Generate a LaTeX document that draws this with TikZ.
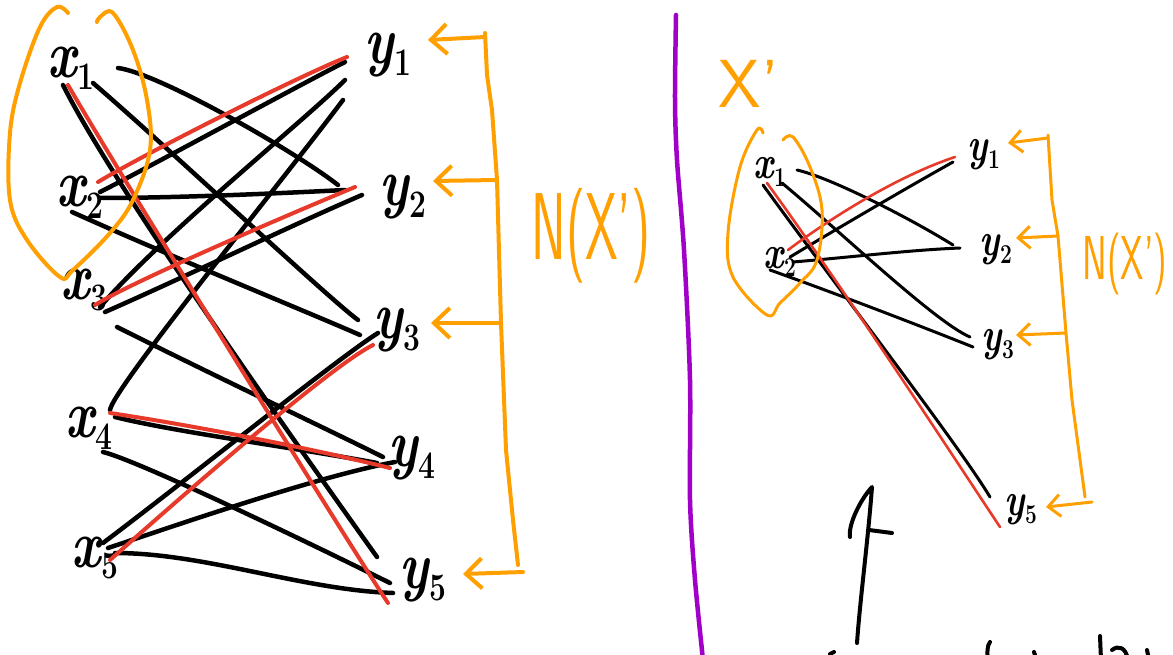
\documentclass[tikz,border=0pt]{standalone}
\usepackage{fontspec}
\usetikzlibrary{calc,arrows.meta}
\definecolor{inkred}{RGB}{232,58,42}
\definecolor{inkorange}{RGB}{255,160,0}
\definecolor{inkpurple}{RGB}{160,0,200}
% vertex labels: big letter with a lowered index, stretched a little upwards
\newcommand\labL[2]{\scalebox{1}[1.3]{{\fontsize{52}{52}\selectfont\bfseries\itshape #1}\raisebox{-9pt}{\fontsize{30}{30}\selectfont\bfseries #2}}}
\newcommand\labR[2]{\scalebox{1}[1.3]{{\fontsize{36}{36}\selectfont\bfseries\itshape #1}\raisebox{-6pt}{\fontsize{21}{21}\selectfont\bfseries #2}}}
\tikzset{
  vtx/.style={inner sep=0pt},
  bk/.style={draw=black, line width=4.5pt, line cap=round, line join=round},
  rd/.style={draw=inkred, line width=4pt, line cap=round, line join=round},
  bks/.style={bk, line width=3pt},
  rds/.style={rd, line width=2.6pt},
  org/.style={draw=inkorange, line width=4pt, line cap=round, line join=round},
  orgs/.style={org, line width=3pt},
  nbarrow/.style={org, -{Straight Barb[length=16pt,width=30pt]}},
  nbarrows/.style={orgs, -{Straight Barb[length=12pt,width=22pt]}},
  otext/.style={text=inkorange, inner sep=0pt, font=\sffamily},
}
\begin{document}
\begin{tikzpicture}[x=1pt,y=-1pt]
\useasboundingbox (0,0) rectangle (1173,655);
\fill[white] (0,0) rectangle (1173,655);

% ---------- left bipartite graph ----------
\node[vtx] (x1) at (71,68)  {\labL{x}{1}};
\node[vtx] (x2) at (80,197) {\labL{x}{2}};
\node[vtx] (x3) at (84,290) {\labL{x}{3}};
\node[vtx] (x4) at (89,428) {\labL{x}{4}};
\node[vtx] (x5) at (95,558) {\labL{x}{5}};
\node[vtx] (y1) at (388,55)  {\labL{y}{1}};
\node[vtx] (y2) at (403,197) {\labL{y}{2}};
\node[vtx] (y3) at (397,330) {\labL{y}{3}};
\node[vtx] (y4) at (412,458) {\labL{y}{4}};
\node[vtx] (y5) at (423,580) {\labL{y}{5}};

% edges
\draw[bk] ($(x1)+(47,0)$)   .. controls +(40,5)   and +(-45,-35) .. ($(y2)+(-65,-12)$);
\draw[bk] ($(x1)+(22,15)$)  .. controls +(70,60)  and +(-30,-22) .. ($(y3)+(-39,-10)$);
\draw[bk] ($(x1)+(-8,17)$)  .. controls +(55,110) and +(-50,-70) .. ($(y5)+(-46,-23)$);
\draw[bk] ($(x2)+(20,-5)$)  .. controls +(40,-20) and +(-40,20)  .. ($(y1)+(-43,7)$);
\draw[bk] ($(x2)+(20,1)$)   .. controls +(80,0)   and +(-60,3)   .. ($(y2)+(-58,-7)$);
\draw[bk] ($(x2)+(-8,15)$)  .. controls +(100,45) and +(-50,-22) .. ($(y3)+(-37,5)$);
\draw[bk] ($(x3)+(16,17)$)  .. controls +(60,-70) and +(-40,40)  .. ($(y1)+(-43,25)$);
\draw[bk] ($(x4)+(21,-18)$) .. controls +(2,-20)  and +(-60,80)  .. ($(y1)+(-45,45)$);
\draw[bk] ($(x3)+(21,22)$)  .. controls +(80,-35) and +(-70,30)  .. ($(y2)+(-41,-2)$);
\draw[bk] ($(x3)+(33,37)$)  .. controls +(100,50) and +(-50,-25) .. ($(y4)+(-29,-1)$);
\draw[bk] ($(x4)+(26,-11)$) .. controls +(60,15)  and +(-80,-15) .. ($(y4)+(-35,5)$);
\draw[bk] ($(x4)+(14,24)$)  .. controls +(40,10)  and +(-50,-25) .. ($(y5)+(-33,3)$);
\draw[bk] ($(x5)+(8,-15)$)  .. controls +(80,-60) and +(-40,25)  .. ($(y3)+(-19,3)$);
\draw[bk] ($(x5)+(13,-10)$) .. controls +(60,-20) and +(-80,15)  .. ($(y4)+(-17,4)$);
\draw[bk] ($(x5)+(20,-5)$)  .. controls +(90,0)   and +(-90,-3)  .. ($(y5)+(-30,13)$);

% matching
\draw[rd] ($(x1)+(-3,17)$)  .. controls +(40,70)  and +(-40,-60) .. ($(y5)+(-35,23)$);
\draw[rd] ($(x2)+(18,-15)$) .. controls +(50,-30) and +(-50,20)  .. ($(y1)+(-41,2)$);
\draw[rd] ($(x3)+(11,15)$)  .. controls +(40,-25) and +(-60,25)  .. ($(y2)+(-48,-10)$);
\draw[rd] ($(x4)+(21,-15)$) .. controls +(80,12)  and +(-80,-20) .. ($(y4)+(-22,10)$);
\draw[rd] ($(x5)+(15,2)$)   .. controls +(90,-80) and +(-40,20)  .. ($(y3)+(-24,15)$);

% the set X' circled
\draw[org] plot[smooth, tension=0.6] coordinates {(68,13) (57,7) (40,27) (20,83) (10,133) (10,200) (27,240) (60,277) (73,270) (110,233) (133,200) (150,150) (147,100) (133,50) (113,13) (100,17) (97,22)};

% neighbourhood bracket
\coordinate (lb1) at (485,37);
\coordinate (lb2) at (497,180);
\coordinate (lb3) at (501,323);
\coordinate (lb5) at (523,572);
\draw[org] (485,33) -- (487,75) -- (492,110) -- (497,180) -- (501,323) -- (506,450) -- (513,520) -- (518,565);
\draw[nbarrow] (lb1) -- ($(y1)+(40,-15)$);
\draw[nbarrow] (lb2) -- ($(y2)+(30,-16)$);
\draw[nbarrow] (lb3) -- ($(y3)+(34,-7)$);
\draw[nbarrow] (lb5) -- ($(y5)+(40,-6)$);
\node[otext] (nl) at (591,236) {\fontsize{95}{95}\selectfont\scalebox{0.55}[1]{N(X')}};

% ---------- separator ----------
\draw[draw=inkpurple, line width=4.5pt, line cap=round] plot[smooth] coordinates {(676,15) (675,100) (677,160) (684,250) (690,380) (690,500) (695,580) (703,660)};

% ---------- right: the subgraph on X' ----------
\node[vtx] (rx1) at (770,172) {\labR{x}{1}};
\node[vtx] (rx2) at (780,262) {\labR{x}{2}};
\node[vtx] (ry1) at (984,155) {\labR{y}{1}};
\node[vtx] (ry2) at (996,250) {\labR{y}{2}};
\node[vtx] (ry3) at (998,345) {\labR{y}{3}};
\node[vtx] (ry5) at (1021,510) {\labR{y}{5}};

\draw[bks] ($(rx1)+(27,-2)$) .. controls +(35,8)   and +(-40,-25) .. ($(ry2)+(-43,-5)$);
\draw[bks] ($(rx1)+(12,11)$) .. controls +(60,50)  and +(-35,-15) .. ($(ry3)+(-28,-8)$);
\draw[bks] ($(rx1)+(-7,13)$) .. controls +(80,110) and +(-30,-50) .. ($(ry5)+(-31,-13)$);
\draw[bks] ($(rx2)+(10,-5)$) .. controls +(50,-30) and +(-50,28)  .. ($(ry1)+(-31,7)$);
\draw[bks] ($(rx2)+(13,0)$)  .. controls +(60,-5)  and +(-50,2)   .. ($(ry2)+(-36,-2)$);
\draw[bks] ($(rx2)+(-10,8)$) .. controls +(70,25)  and +(-50,-20) .. ($(ry3)+(-25,2)$);
\draw[rds] ($(rx1)+(-3,11)$) .. controls +(80,110) and +(-40,-60) .. ($(ry5)+(-21,17)$);
\draw[rds] ($(rx2)+(8,-12)$) .. controls +(40,-30) and +(-60,20)  .. ($(ry1)+(-29,2)$);

\draw[orgs] plot[smooth, tension=0.6] coordinates {(763,133) (757,130) (740,167) (728,233) (733,277) (767,315) (780,303) (800,283) (817,260) (822,210) (810,167) (793,137) (783,140)};
\node[otext] (xp) at (749,84) {\fontsize{68}{68}\selectfont X'};

\coordinate (rb1) at (1048,138);
\coordinate (rb2) at (1058,236);
\coordinate (rb3) at (1066,333);
\coordinate (rb5) at (1092,502);
\draw[orgs] (1048,135) -- (1052,200) -- (1058,236) -- (1066,333) -- (1072,400) -- (1085,497);
\draw[nbarrows] (rb1) -- ($(ry1)+(24,-12)$);
\draw[nbarrows] (rb2) -- ($(ry2)+(20,-12)$);
\draw[nbarrows] (rb3) -- ($(ry3)+(18,-10)$);
\draw[nbarrows] (rb5) -- ($(ry5)+(25,-3)$);
\node[otext] (nr) at (1125,264) {\fontsize{62}{62}\selectfont\scalebox{0.6}[1]{N(X')}};

% hand-drawn arrow pointing up, and the start of the line below it
\draw[bk, line width=4pt] (857,643) .. controls (860,600) and (868,540) .. (872,487)
      .. controls (860,500) and (848,525) .. (850,537);
\draw[bk, line width=4pt] (869,530) -- (892,533);
\draw[bk, line width=4pt] (990,642) .. controls (987,646) and (987,652) .. (988,660);
\draw[bk, line width=4pt] (1100,636) -- (1101,660);
\draw[bk, line width=4pt] (1112,650) .. controls (1118,645) and (1126,647) .. (1128,660);
\draw[bk, line width=4pt] (830,654) -- (834,652);
\draw[bk, line width=4pt] (1034,652) -- (1035,655);
\draw[bk, line width=4pt] (1147,650) -- (1148,655);
\end{tikzpicture}
\end{document}
